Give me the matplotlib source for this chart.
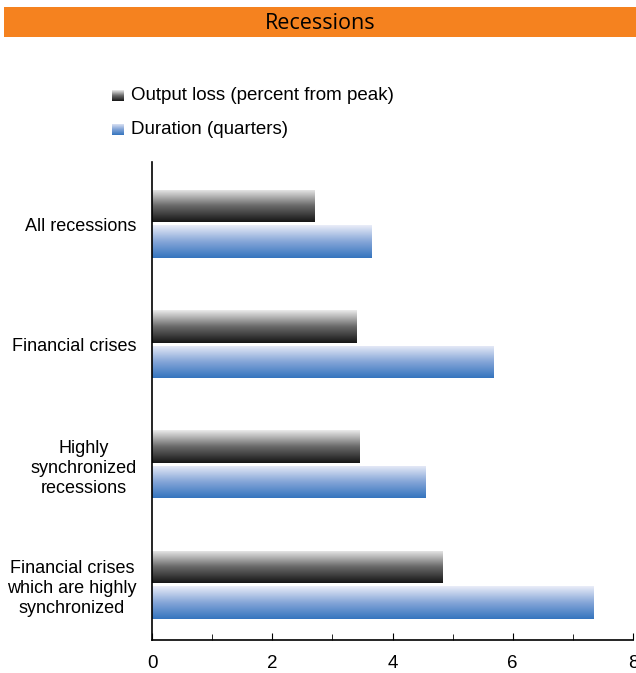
import matplotlib
matplotlib.use("Agg")
import matplotlib.pyplot as plt
import numpy as np
from matplotlib.colors import LinearSegmentedColormap

plt.rcParams['font.family'] = ['Liberation Sans', 'DejaVu Sans']

categories = ["All recessions", "Financial crises", "Highly\nsynchronized\nrecessions",
              "Financial crises\nwhich are highly\nsynchronized"]
output_loss = [2.7, 3.4, 3.45, 4.83]
duration = [3.65, 5.68, 4.55, 7.35]
series_labels = ["Output loss (percent from peak)", "Duration (quarters)"]

gray_cmap = LinearSegmentedColormap.from_list("gray_grad", ["#161616", "#6a6a6a", "#ececec"])
blue_cmap = LinearSegmentedColormap.from_list("blue_grad", ["#3474be", "#85a6d8", "#eaedf8"])
grad = np.linspace(0, 1, 256).reshape(-1, 1)

fig = plt.figure(figsize=(6.36, 6.73), dpi=100)

# title band
band = fig.add_axes([4 / 636, 1 - 37 / 673, 632 / 636, 30 / 673])
band.set_facecolor("#f5821f")
band.set_xticks([])
band.set_yticks([])
for s in band.spines.values():
    s.set_visible(False)
band.text(0.5, 0.45, "Recessions", ha="center", va="center", fontsize=15.5,
          family=["Open Sans", "DejaVu Sans"], transform=band.transAxes)

ax = fig.add_axes([152 / 636, 1 - 640 / 673, 481 / 636, 478 / 673])
y = np.arange(len(categories))
h = 0.27
bars_a = ax.barh(y - 0.15, output_loss, height=h, color="none", edgecolor="none")
bars_b = ax.barh(y + 0.145, duration, height=h, color="none", edgecolor="none")


def fill_gradient(bars, cmap):
    for p in bars.patches:
        x0, y0 = p.get_x(), p.get_y()
        w, hh = p.get_width(), p.get_height()
        # dark end at the bottom of each bar, light end on top
        im = ax.imshow(grad, cmap=cmap, aspect="auto", origin="lower",
                       extent=[x0, x0 + w, y0 + hh, y0], zorder=2)
        im.set_clip_path(p)


fill_gradient(bars_a, gray_cmap)
fill_gradient(bars_b, blue_cmap)

ax.set_xlim(0, 8)
ax.set_ylim(3 + 55 / 120, -62 / 120)
ax.set_yticks(y)
ax.set_yticklabels(categories, fontsize=13, linespacing=1.25, multialignment="center")
ax.tick_params(axis="y", length=0, pad=11)
ax.set_xticks([0, 2, 4, 6, 8])
ax.set_xticks([1, 3, 5, 7], minor=True)
ax.tick_params(axis="x", which="major", direction="in", length=5, labelsize=13.5, pad=11)
ax.tick_params(axis="x", which="minor", direction="in", length=4)
for lab in ax.get_xticklabels():
    lab.set_clip_on(False)
ax.spines["top"].set_visible(False)
ax.spines["right"].set_visible(False)
ax.spines["left"].set_linewidth(1.2)
ax.spines["bottom"].set_linewidth(1.2)

# legend with gradient swatches
for i, (lab, cmap) in enumerate(zip(series_labels, [gray_cmap, blue_cmap])):
    yc = 96 + 34 * i
    sw = fig.add_axes([112 / 636, 1 - (yc + 5) / 673, 12 / 636, 11 / 673])
    sw.imshow(grad, cmap=cmap, aspect="auto", origin="lower")
    sw.axis("off")
    fig.text(131 / 636, 1 - yc / 673, lab, fontsize=13.5, va="center", ha="left")

fig.savefig("out.png", dpi=100)
